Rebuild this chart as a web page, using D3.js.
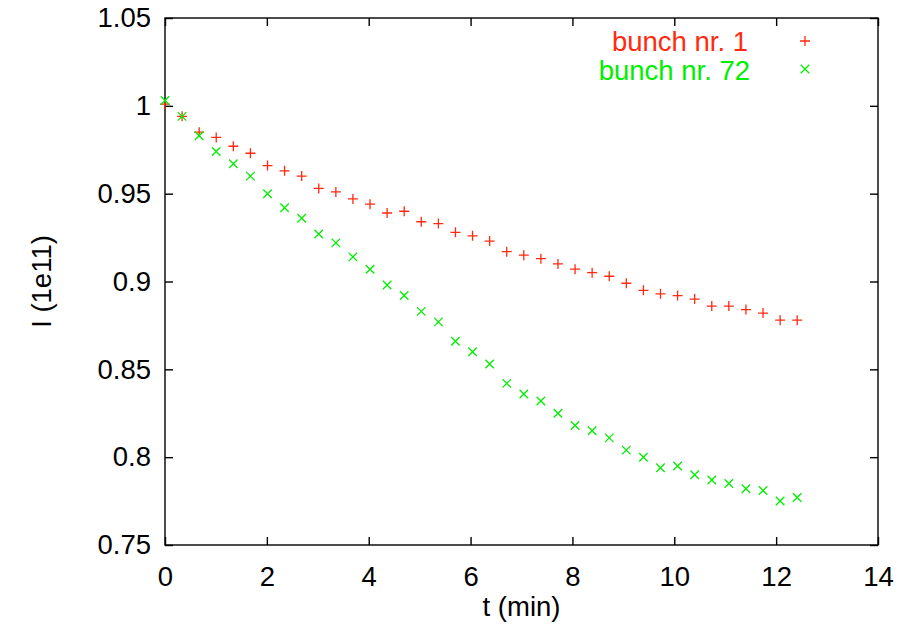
<!DOCTYPE html>
<html>
<head>
<meta charset="utf-8">
<script src="https://cdn.jsdelivr.net/npm/d3@7"></script>
<style>
  html, body { margin: 0; padding: 0; background: #fff; }
  svg text { font-family: "Liberation Sans", Helvetica, Arial, sans-serif; }
</style>
</head>
<body>
<svg id="chart" width="909" height="630"></svg>
<script>
// time in minutes (one sample every ~20 s)
const times = [0.000, 0.335, 0.671, 1.006, 1.342, 1.677, 2.013, 2.348, 2.684, 3.019,
  3.355, 3.690, 4.026, 4.361, 4.697, 5.032, 5.368, 5.703, 6.039, 6.374,
  6.710, 7.045, 7.381, 7.716, 8.052, 8.387, 8.723, 9.058, 9.394, 9.729,
  10.065, 10.400, 10.736, 11.071, 11.407, 11.742, 12.078, 12.413];
const bunch1 = [1.001, 0.994, 0.985, 0.982, 0.977, 0.973, 0.966, 0.963, 0.960, 0.953,
  0.951, 0.947, 0.944, 0.939, 0.940, 0.934, 0.933, 0.928, 0.926, 0.923,
  0.917, 0.915, 0.913, 0.910, 0.907, 0.905, 0.903, 0.899, 0.895, 0.893,
  0.892, 0.890, 0.886, 0.886, 0.884, 0.882, 0.878, 0.878];
const bunch72 = [1.003, 0.994, 0.983, 0.974, 0.967, 0.960, 0.950, 0.942, 0.936, 0.927,
  0.922, 0.914, 0.907, 0.898, 0.892, 0.883, 0.877, 0.866, 0.860, 0.853,
  0.842, 0.836, 0.832, 0.825, 0.818, 0.815, 0.811, 0.804, 0.800, 0.794,
  0.795, 0.790, 0.787, 0.785, 0.782, 0.781, 0.775, 0.777];
const seriesNames = ["bunch nr. 1", "bunch nr. 72"];
const xTicks = [0, 2, 4, 6, 8, 10, 12, 14];
const yTicks = [0.75, 0.8, 0.85, 0.9, 0.95, 1, 1.05];

const svg = d3.select("#chart");
const L = 165, R = 878, T = 18, B = 545;
const x = d3.scaleLinear().domain([0, 14]).range([L, R]);
const y = d3.scaleLinear().domain([0.75, 1.05]).range([B, T]);
const fs = 27.5;
const red = "#ff2a10", green = "#00ee00";

// frame
svg.append("rect").attr("x", L).attr("y", T).attr("width", R - L).attr("height", B - T)
  .attr("fill", "none").attr("stroke", "#000").attr("stroke-width", 1.4);

const tickLen = 8;
// axes with inward ticks
const xAxisB = d3.axisBottom(x).tickValues(xTicks).tickSize(-tickLen).tickPadding(21).tickFormat(d3.format("d"));
const xAxisT = d3.axisTop(x).tickValues(xTicks).tickSize(-tickLen).tickFormat("");
const yAxisL = d3.axisLeft(y).tickValues(yTicks).tickSize(-tickLen).tickPadding(14).tickFormat(d => String(d));
const yAxisR = d3.axisRight(y).tickValues(yTicks).tickSize(-tickLen).tickFormat("");

function style(g) {
  g.select(".domain").remove();
  g.selectAll(".tick line").attr("stroke", "#000").attr("stroke-width", 1.4);
  g.selectAll(".tick text").attr("fill", "#000").style("font-size", fs + "px")
    .style("font-family", "'Liberation Sans', Helvetica, Arial, sans-serif");
}
svg.append("g").attr("transform", `translate(0,${B})`).call(xAxisB).call(style);
svg.append("g").attr("transform", `translate(0,${T})`).call(xAxisT).call(style);
svg.append("g").attr("transform", `translate(${L},0)`).call(yAxisL).call(style);
svg.append("g").attr("transform", `translate(${R},0)`).call(yAxisR).call(style);

// axis labels
svg.append("text").attr("x", (L + R) / 2).attr("y", 616).attr("text-anchor", "middle")
  .style("font-size", fs + "px").text("t (min)");
svg.append("text").attr("transform", `translate(51,${(T + B) / 2}) rotate(-90)`)
  .attr("text-anchor", "middle").style("font-size", fs + "px").text("I (1e11)");

// markers
const s = 5;
function plus(g, cx, cy, color) {
  g.append("path").attr("d", `M${cx - s},${cy}H${cx + s}M${cx},${cy - s}V${cy + s}`)
    .attr("stroke", color).attr("stroke-width", 1.3).attr("fill", "none");
}
function cross(g, cx, cy, color) {
  const c = s * 0.85;
  g.append("path").attr("d", `M${cx - c},${cy - c}L${cx + c},${cy + c}M${cx - c},${cy + c}L${cx + c},${cy - c}`)
    .attr("stroke", color).attr("stroke-width", 1.3).attr("fill", "none");
}
const g1 = svg.append("g"), g2 = svg.append("g");
times.forEach((t, i) => {
  plus(g1, x(t), y(bunch1[i]), red);
});
times.forEach((t, i) => {
  cross(g2, x(t), y(bunch72[i]), green);
});

// legend
const leg = svg.append("g");
leg.append("text").attr("x", 748).attr("y", 51).attr("text-anchor", "end")
  .attr("fill", red).style("font-size", fs + "px").text(seriesNames[0]);
leg.append("text").attr("x", 750).attr("y", 80).attr("text-anchor", "end")
  .attr("fill", green).style("font-size", fs + "px").text(seriesNames[1]);
plus(leg, 805, 41, red);
cross(leg, 805, 69, green);
</script>
</body>
</html>
